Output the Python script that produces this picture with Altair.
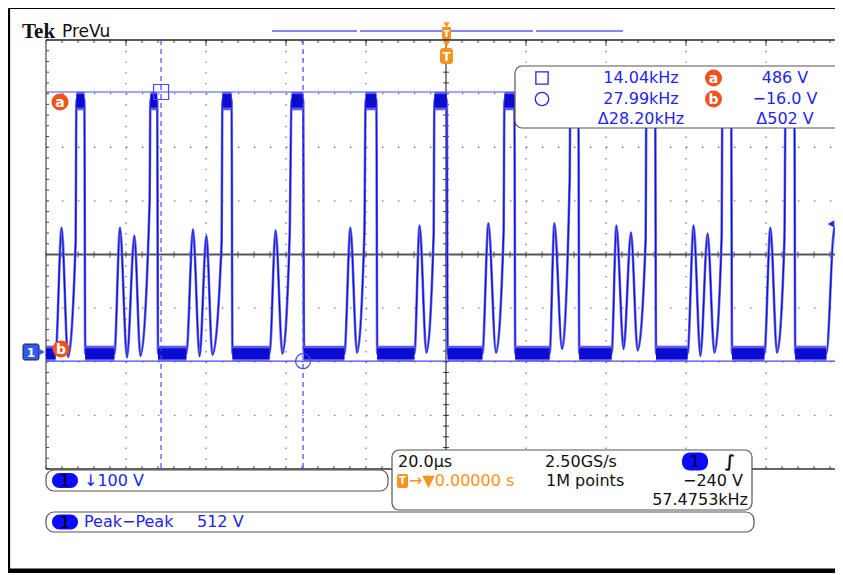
import altair as alt
import pandas as pd

# ---------------- data (read from the screen) ----------------
# channel 1 trace: time in microseconds, voltage in volts
wave_t = [-100, -97.6, -96.1, -94.5, -92.6, -92.4, -90.4, -90.2,
          -82.9, -81.5, -79.75, -77.9, -76.4, -74.1, -73.9, -72.2, -72.0,
          -64.9, -63.25, -61.6, -59.9, -58.4, -56.1, -55.9, -53.6, -53.4,
          -44.1, -42.6, -40.9, -39.1, -38.6, -35.7, -35.5,
          -25.4, -23.9, -22.25, -20.4, -20.1, -17.4, -17.2,
          -7.9, -6.6, -4.9, -3.1, -2.9, 0.2, 0.4,
          9.1, 10.6, 12.5, 14.4, 14.6, 17.1, 17.3,
          25.9, 27.1, 29.0, 30.9, 31.1, 33.1, 33.3,
          41.4, 42.6, 44.4, 46.25, 47.9, 49.9, 50.1, 52.3, 52.5,
          60.4, 61.9, 63.6, 65.4, 67.1, 68.9, 69.1, 71.3, 71.5,
          79.6, 81.1, 82.75, 84.6, 84.9, 87.1, 87.3,
          95.1, 97.1, 98.9, 100]
wave_v = [-2, -2, 233, -8, 205, 472, 472, -2,
          -2, 233, -9, 218, -6, 280, 472, 472, -2,
          -2, 230, -7, 218, -4, 205, 472, 472, -2,
          -2, 228, -2, 215, 472, 472, -2,
          -2, 233, 0, 224, 472, 472, -2,
          -2, 237, 0, 218, 472, 472, -2,
          -2, 241, 0, 224, 472, 472, -2,
          -2, 241, 7, 317, 472, 472, -2,
          -2, 237, 7, 224, 4, 209, 472, 472, -2,
          -2, 237, -6, 222, 0, 213, 472, 472, -2,
          -2, 233, 0, 209, 472, 472, -2,
          -2, 233, 4, 97]

# noisy low / high plateaus (start, end in microseconds)
low_t0 = [-100, -90.2, -72.0, -53.4, -35.5, -17.2, 0.4, 17.3, 33.3, 52.5, 71.5, 87.3]
low_t1 = [-97.6, -82.9, -64.9, -44.1, -25.4, -7.9, 9.1, 25.9, 41.4, 60.4, 79.6, 95.1]
high_t0 = [-92.4, -73.9, -55.9, -38.6, -20.1, -2.9, 14.6, 31.1, 50.1, 69.1, 84.9]
high_t1 = [-90.4, -72.2, -53.6, -35.7, -17.4, 0.2, 17.1, 33.1, 52.3, 71.3, 87.1]
low_band = [-12, 8]
low_fringe = [-15, 13]
high_band = [457, 482]
high_fringe = [452, 486]

# cursors
cursor_t = [-71.23, -35.73]
cursor_v = [486, -16]

# graticule (20 us/div, 100 V/div, 5 minor per div)
t_domain = [-100, 97.25]
v_domain = [-217, 583]
major_t = [-80, -60, -40, -20, 20, 40, 60, 80]
major_v = [483, 383, 283, 83, -17, -117]
minor_t = [-100 + 4 * i for i in range(50)]
minor_v = [-217 + 20 * i for i in range(41)]
center_t = [0]
center_v = [183]

readout_freq = ["14.04kHz", "27.99kHz", "\u039428.20kHz"]
readout_volt = ["486 V", "\u221216.0 V", "\u0394502 V"]

# ---------------- styling ----------------
W, H = 789, 429
SANS = "DejaVu Sans"
BLUE_TXT = "#2424ee"
ORANGE = "#f7931e"
BADGE_OR = "#f0521c"
BADGE_BLUE = "#0b0bff"
CUR = "#4646ff"
FS = 16

xs = alt.Scale(domain=t_domain, nice=False, zero=False)
ys = alt.Scale(domain=v_domain, nice=False, zero=False)
ONE = pd.DataFrame({"k": [0]})


def X(px):
    return alt.value(px - 46)


def Y(py):
    return alt.value(py - 40)


def text(s, x, y, color="#111", size=FS, align="left", weight="normal", font=SANS, baseline="middle"):
    return alt.Chart(ONE).mark_text(text=s, align=align, baseline=baseline, font=font,
                                    fontSize=size, fontWeight=weight, color=color).encode(x=X(x), y=Y(y))


def box(x1, y1, x2, y2, fill="white", stroke="#555", sw=1.2, r=6):
    kw = dict(fill=fill, cornerRadius=r)
    if stroke:
        kw.update(stroke=stroke, strokeWidth=sw)
    else:
        kw.update(strokeWidth=0)
    return alt.Chart(ONE).mark_rect(**kw).encode(x=X(x1), x2=X(x2), y=Y(y1), y2=Y(y2))


def hrule(x1, x2, y, color, w=1.0):
    return alt.Chart(ONE).mark_rule(color=color, strokeWidth=w).encode(x=X(x1), x2=X(x2), y=Y(y))


def vrule(x, y1, y2, color, w=1.0):
    return alt.Chart(ONE).mark_rule(color=color, strokeWidth=w).encode(x=X(x), y=Y(y1), y2=Y(y2))


def sym(shape, x, y, size, color, filled=True, sw=1.2):
    if filled:
        m = alt.Chart(ONE).mark_point(shape=shape, size=size, filled=True, fill=color, opacity=1, strokeWidth=0)
    else:
        m = alt.Chart(ONE).mark_point(shape=shape, size=size, filled=False, stroke=color, opacity=1, strokeWidth=sw)
    return m.encode(x=X(x), y=Y(y))


def badge1(x1, y1, x2, y2):
    return [box(x1, y1, x2, y2, fill=BADGE_BLUE, stroke=None, r=8),
            text("1", (x1 + x2) / 2, (y1 + y2) / 2 + 0.5, color="#000", size=15, align="center")]


def orange_badge(letter, x, y):
    return [sym("circle", x, y, 290, BADGE_OR),
            text(letter, x, y + 0.5, color="white", size=14, align="center", weight="bold")]


def bands(t0, t1, lim, color):
    df = pd.DataFrame({"t0": t0, "t1": t1, "v0": [lim[0]] * len(t0), "v1": [lim[1]] * len(t0)})
    return alt.Chart(df).mark_rect(color=color).encode(
        x=alt.X("t0:Q", scale=xs, axis=None), x2=alt.X2("t1"),
        y=alt.Y("v1:Q", scale=ys, axis=None), y2=alt.Y2("v0"))


layers = []

# grid dots
df_mt = pd.DataFrame({"t": major_t})
df_mv = pd.DataFrame({"v": major_v})
layers.append(alt.Chart(df_mt).mark_rule(color="#777", strokeWidth=1.3, strokeDash=[1.4, 9.325]).encode(
    x=alt.X("t:Q", scale=xs, axis=None), y=alt.value(0), y2=alt.value(H)))
layers.append(alt.Chart(df_mv).mark_rule(color="#777", strokeWidth=1.3, strokeDash=[1.4, 14.6]).encode(
    y=alt.Y("v:Q", scale=ys, axis=None), x=alt.value(0), x2=alt.value(W)))

# minor ticks
df_nt = pd.DataFrame({"t": minor_t})
df_nv = pd.DataFrame({"v": minor_v})
cy = (v_domain[1] - center_v[0]) / (v_domain[1] - v_domain[0]) * H
cx = (center_t[0] - t_domain[0]) * 4
for y1, y2 in [(0, 3), (cy - 3, cy + 3), (H - 3, H)]:
    layers.append(alt.Chart(df_nt).mark_rule(color="#444", strokeWidth=1).encode(
        x=alt.X("t:Q", scale=xs, axis=None), y=alt.value(y1), y2=alt.value(y2)))
for x1, x2 in [(0, 3), (cx - 3, cx + 3)]:
    layers.append(alt.Chart(df_nv).mark_rule(color="#444", strokeWidth=1).encode(
        y=alt.Y("v:Q", scale=ys, axis=None), x=alt.value(x1), x2=alt.value(x2)))
layers.append(alt.Chart(df_mt).mark_rule(color="#444", strokeWidth=1).encode(
    x=alt.X("t:Q", scale=xs, axis=None), y=alt.value(0), y2=alt.value(6)))

# borders and centre cross
layers.append(alt.Chart(ONE).mark_rule(color="#222", strokeWidth=1.6).encode(
    x=alt.value(0), x2=alt.value(W), y=alt.value(0)))
layers.append(alt.Chart(ONE).mark_rule(color="#666", strokeWidth=1.4).encode(
    x=alt.value(0), y=alt.value(0), y2=alt.value(H)))
layers.append(alt.Chart(ONE).mark_rule(color="#333", strokeWidth=1.4).encode(
    x=alt.value(0), x2=alt.value(W), y=alt.value(H)))
layers.append(alt.Chart(pd.DataFrame({"v": center_v})).mark_rule(color="#555", strokeWidth=2).encode(
    y=alt.Y("v:Q", scale=ys, axis=None), x=alt.value(0), x2=alt.value(W)))
layers.append(alt.Chart(pd.DataFrame({"t": center_t})).mark_rule(color="#111", strokeWidth=1).encode(
    x=alt.X("t:Q", scale=xs, axis=None), y=alt.value(0), y2=alt.value(H)))

# waveform
df_w = pd.DataFrame({"t": wave_t, "v": wave_v})
layers.append(alt.Chart(df_w).mark_line(color="#6a6af2", strokeWidth=2.6, interpolate="monotone").encode(
    x=alt.X("t:Q", scale=xs, axis=None), y=alt.Y("v:Q", scale=ys, axis=None)))
layers.append(alt.Chart(df_w).mark_line(color="#1212d2", strokeWidth=1.3, interpolate="monotone").encode(
    x=alt.X("t:Q", scale=xs, axis=None), y=alt.Y("v:Q", scale=ys, axis=None)))

# noise plateaus (light fringe + dark core)
layers.append(bands(low_t0, low_t1, low_fringe, "#5c5cf0"))
layers.append(bands(high_t0, high_t1, high_fringe, "#5c5cf0"))
layers.append(bands(low_t0, low_t1, low_band, "#0c0cd0"))
layers.append(bands(high_t0, high_t1, high_band, "#0c0cd0"))

# cursors
layers.append(alt.Chart(pd.DataFrame({"t": cursor_t})).mark_rule(color=CUR, strokeWidth=1.2, strokeDash=[5, 4]).encode(
    x=alt.X("t:Q", scale=xs, axis=None), y=alt.value(0), y2=alt.value(H)))
layers.append(alt.Chart(pd.DataFrame({"v": cursor_v})).mark_rule(color=CUR, strokeWidth=1.2).encode(
    y=alt.Y("v:Q", scale=ys, axis=None), x=alt.value(0), x2=alt.value(W)))
layers.append(alt.Chart(pd.DataFrame({"t": cursor_t[:1], "v": cursor_v[:1]})).mark_point(
    shape="square", size=225, filled=False, stroke=CUR, opacity=1, strokeWidth=1.2).encode(
    x=alt.X("t:Q", scale=xs, axis=None), y=alt.Y("v:Q", scale=ys, axis=None)))
layers.append(alt.Chart(pd.DataFrame({"t": cursor_t[1:], "v": cursor_v[1:]})).mark_point(
    shape="circle", size=225, filled=False, stroke=CUR, opacity=1, strokeWidth=1.2).encode(
    x=alt.X("t:Q", scale=xs, axis=None), y=alt.Y("v:Q", scale=ys, axis=None)))

# title and record bar
layers.append(text("Tek", 22, 37.5, color="#111", size=21, weight="bold", font="Liberation Serif", baseline="alphabetic"))
layers.append(text("PreVu", 62, 37, color="#111", size=17, baseline="alphabetic"))
for x1, x2 in [(272, 357), (360, 533), (536, 623)]:
    layers.append(hrule(x1, x2, 31, "#8585f5", 2))

# trigger position markers
layers.append(sym("triangle-down", 446.5, 25, 40, ORANGE))
layers.append(box(442, 27, 451, 39, fill=ORANGE, stroke=None, r=1))
layers.append(text("T", 446.5, 33.5, color="white", size=9, align="center", weight="bold"))
layers.append(sym("triangle-down", 446.5, 44, 55, ORANGE))
layers.append(box(440, 48, 453, 64, fill=ORANGE, stroke=None, r=3))
layers.append(text("T", 446.5, 56.5, color="white", size=12, align="center", weight="bold"))

# cursor readout box
layers.append(box(515, 66, 842, 128, r=7))
layers.append(sym("square", 542, 78, 150, BLUE_TXT, filled=False, sw=1.3))
layers.append(sym("circle", 542, 99, 180, BLUE_TXT, filled=False, sw=1.3))
for s, y in zip(readout_freq, [78, 98.5, 119]):
    layers.append(text(s, 641, y, color=BLUE_TXT, align="center"))
for s, y in zip(readout_volt, [78, 98.5, 119]):
    layers.append(text(s, 785, y, color=BLUE_TXT, align="center"))
layers += orange_badge("a", 713.5, 78)
layers += orange_badge("b", 713.5, 99)

# bottom boxes
layers.append(box(46, 470, 388, 491, r=8))
layers += badge1(52, 473, 78, 488)
layers.append(text("\u2193100 V", 84, 481, color=BLUE_TXT))

layers.append(box(46, 512, 754, 532, r=8))
layers += badge1(52, 514.5, 78, 529.5)
layers.append(text("Peak\u2212Peak", 84, 522, color=BLUE_TXT))
layers.append(text("512 V", 197, 522, color=BLUE_TXT))

layers.append(box(392, 450, 752, 510, r=7))
layers.append(text("20.0\u00b5s", 398, 462))
layers.append(text("2.50GS/s", 545, 462))
layers += badge1(682, 452.5, 708, 470.5)
layers.append(text("\u222b", 730, 462, size=17, align="center", weight="bold"))
layers.append(box(397, 474, 408, 488, fill=ORANGE, stroke=None, r=2))
layers.append(text("T", 402.5, 481, color="white", size=10, align="center", weight="bold"))
layers.append(text("\u2192\u25bc0.00000 s", 409, 481, color=ORANGE))
layers.append(text("1M points", 546, 481))
layers.append(text("\u2212240 V", 743, 481, align="right"))
layers.append(text("57.4753kHz", 748, 500, align="right"))

# markers on the graticule
layers += orange_badge("a", 60, 102)
layers += orange_badge("b", 61, 349)
layers.append(box(23, 344, 39, 360, fill="#2f5cf0", stroke="#222", sw=1, r=2))
layers.append(text("1", 31, 352.5, color="white", size=12, align="center", weight="bold"))
layers.append(sym("triangle-right", 42, 352, 45, "#2f5cf0"))
layers.append(sym("triangle-left", 831, 224, 60, "#2a2aff"))

# outer black frame
layers.append(vrule(9, 0, 575, "#000", 2.2))
layers.append(hrule(0, 843, 8, "#000", 2.2))
layers.append(hrule(0, 843, 571, "#000", 5))

chart = alt.layer(*layers).properties(
    width=W, height=H,
    padding={"left": 38, "top": 32, "right": 0, "bottom": 104},
    autosize=alt.AutoSizeParams(type="none"),
    background="white",
).configure_view(strokeWidth=0)

chart.save("out.html", embed_options={"renderer": "svg", "actions": False})
